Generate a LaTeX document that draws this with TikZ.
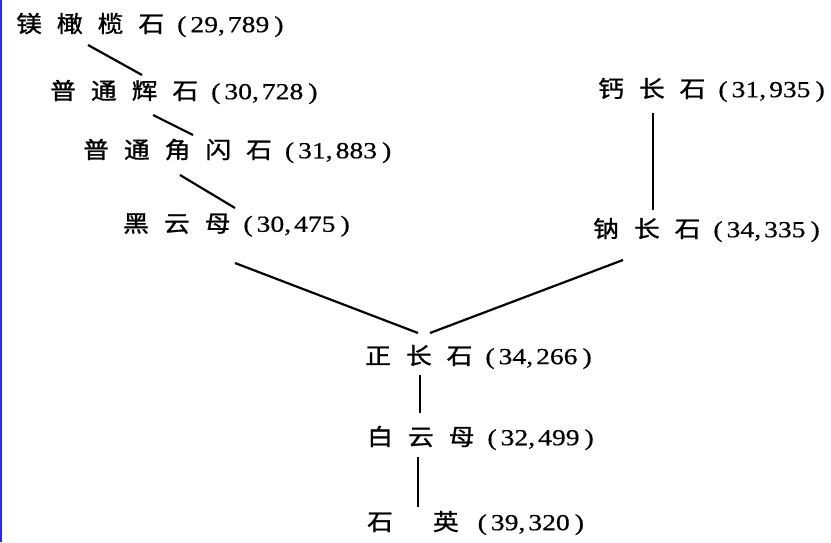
\documentclass[tikz,border=0pt]{standalone}
\usepackage{fontspec}
\setmainfont[FakeStretch=1.2,FakeBold=0.6]{Liberation Serif}
\newfontfamily\cjk[FakeStretch=1.12,FakeBold=1.2]{Noto Sans CJK SC}
\usepackage{tikz}
\usetikzlibrary{calc}
\definecolor{edgeblue}{RGB}{40,40,250}
\newcommand{\zg}{\hspace{15pt}}
\newcommand{\zh}[1]{{\cjk #1}}
\newcommand{\val}[2]{\hspace{13pt}(\hspace{4pt}#1,\hspace{3pt}#2\hspace{5pt})}

\begin{document}
\begin{tikzpicture}[
  x=1pt,y=-1pt,
  mn/.style={anchor=west,inner sep=0pt,font=\fontsize{23}{27}\selectfont},
  tie/.style={line width=2.2pt}
]
\useasboundingbox (0,0) rectangle (831,542);
\draw[edgeblue,line width=2pt] (1,0) -- (1,542);
% left branch
\node[mn] (ol) at (16,25) {\zh{镁\zg 橄\zg 榄\zg 石}\val{29}{789}};
\node[mn] (px) at (50,92) {\zh{普\zg 通\zg 辉\zg 石}\val{30}{728}};
\node[mn] (hb) at (83,151) {\zh{普\zg 通\zg 角\zg 闪\zg 石}\val{31}{883}};
\node[mn] (bt) at (123,225) {\zh{黑\zg 云\zg 母}\val{30}{475}};
% right branch
\node[mn] (an) at (598,90) {\zh{钙\zg 长\zg 石}\val{31}{935}};
\node[mn] (ab) at (593,230) {\zh{钠\zg 长\zg 石}\val{34}{335}};
% common trunk
\node[mn] (or) at (365,357) {\zh{正\zg 长\zg 石}\val{34}{266}};
\node[mn] (ms) at (367,438) {\zh{白\zg 云\zg 母}\val{32}{499}};
\node[mn] (qz) at (367,523) {\zh{石\hspace{40pt}英}\hspace{6pt}\val{39}{320}};
\draw[tie] ($(ol.west)+(72,20)$) -- ($(px.west)+(92,-17)$);
\draw[tie] ($(px.west)+(103,23)$) -- ($(hb.west)+(110,-16)$);
\draw[tie] ($(hb.west)+(97,24)$) -- ($(bt.west)+(112,-17)$);
\draw[tie] ($(bt.west)+(112,38)$) -- ($(or.west)+(53,-24)$);
\draw[tie] ($(ab.west)+(30,30)$) -- ($(or.west)+(65,-24)$);
\draw[tie] ($(an.west)+(55,23)$) -- ($(ab.west)+(60,-20)$);
\draw[tie] ($(or.west)+(55,18)$) -- ($(ms.west)+(53,-25)$);
\draw[tie] ($(ms.west)+(51,19)$) -- ($(qz.west)+(51,-16)$);
\end{tikzpicture}
\end{document}
